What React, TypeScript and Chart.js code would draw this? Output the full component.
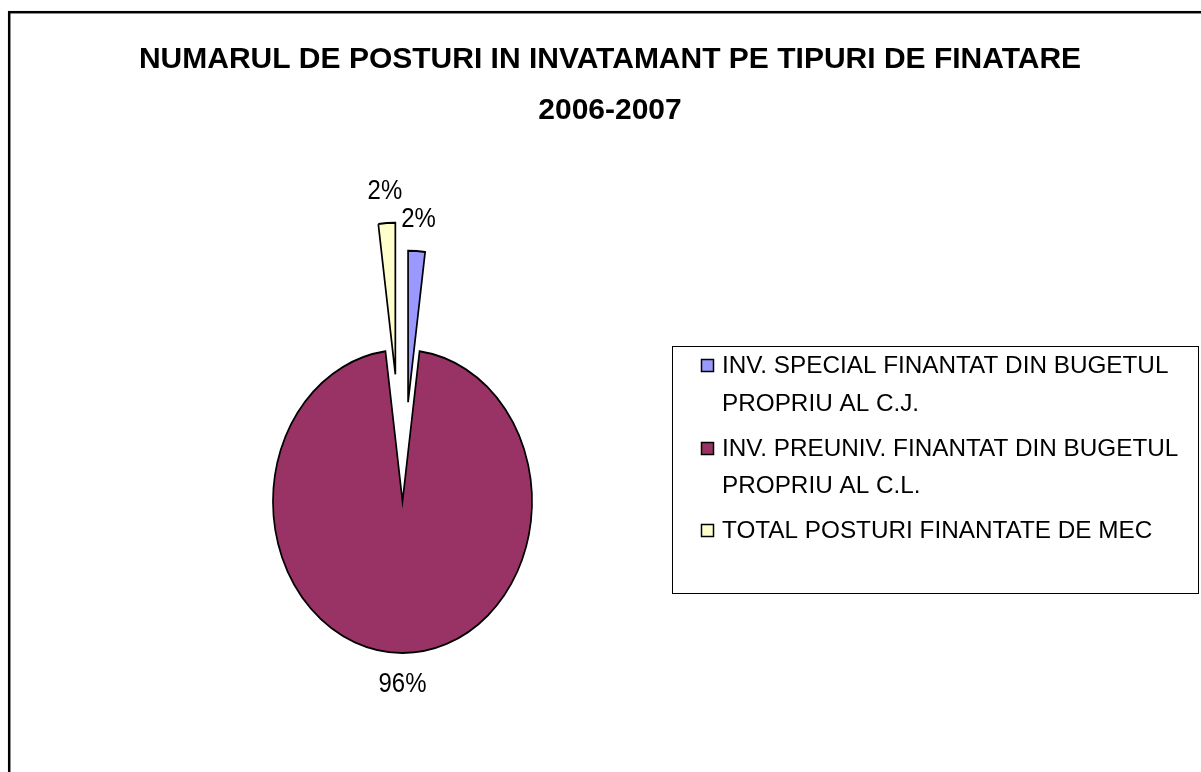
import React, { useEffect, useRef } from 'react';
import { Chart, registerables, ArcElement } from 'chart.js';

Chart.register(...registerables);

// ---- data ----
const TITLE_LINES = ['NUMARUL DE POSTURI IN INVATAMANT PE TIPURI DE FINATARE', '2006-2007'];
const CATEGORY_LINES = [
  ['INV. SPECIAL FINANTAT DIN BUGETUL', 'PROPRIU AL C.J.'],
  ['INV. PREUNIV. FINANTAT DIN BUGETUL', 'PROPRIU AL C.L.'],
  ['TOTAL POSTURI FINANTATE DE MEC'],
];
const CATEGORIES = CATEGORY_LINES.map((l) => l.join(' '));
const SHARES = [2.1, 95.8, 2.1];
const COLORS = ['#9999FF', '#993366', '#FFFFCC'];
const EXPLODE = [99, 0.5, 127];

// ---- styling / layout ----
const W = 1201;
const H = 772;
const KX = 0.855; // horizontal squash of the plot (elliptical pie)
const FONT = '"Liberation Sans", Arial, Helvetica, sans-serif';

class ExplodedArc extends ArcElement {
  static id = 'explodedArc';
  draw(ctx: CanvasRenderingContext2D) {
    const self = this as any;
    const idx = self.$context ? self.$context.dataIndex : 0;
    const e = EXPLODE[idx] || 0;
    const mid = (self.startAngle + self.endAngle) / 2;
    const x = self.x;
    const y = self.y;
    ctx.save();
    ctx.translate(x, y);
    ctx.scale(KX, 1);
    ctx.translate(-x, -y);
    ctx.translate(Math.cos(mid) * e, Math.sin(mid) * e);
    super.draw(ctx);
    ctx.restore();
  }
}
Chart.register(ExplodedArc as any);
(Chart.defaults.datasets as any).pie.dataElementType = 'explodedArc';

const framePlugin = {
  id: 'frameAndText',
  beforeDraw(chart: any) {
    const ctx = chart.ctx as CanvasRenderingContext2D;
    ctx.save();
    ctx.fillStyle = '#ffffff';
    ctx.fillRect(0, 0, W, H);
    // outer frame
    ctx.strokeStyle = '#000000';
    ctx.lineWidth = 2.5;
    ctx.strokeRect(9.2, 12.2, W + 50, H + 50);
    // title
    ctx.fillStyle = '#000000';
    ctx.textAlign = 'center';
    ctx.textBaseline = 'alphabetic';
    ctx.font = `bold 30px ${FONT}`;
    ctx.fillText(TITLE_LINES[0], 610, 68);
    ctx.fillText(TITLE_LINES[1], 610, 119);
    ctx.restore();
  },
  afterDraw(chart: any) {
    const ctx = chart.ctx as CanvasRenderingContext2D;
    ctx.save();
    // legend box
    ctx.strokeStyle = '#000000';
    ctx.lineWidth = 1;
    ctx.strokeRect(672.5, 346.5, 526, 247);
    const baselines = [
      [373, 411],
      [456, 493],
      [538],
    ];
    ctx.font = `24.3px ${FONT}`;
    ctx.textAlign = 'left';
    ctx.textBaseline = 'alphabetic';
    const colors = chart.data.datasets[0].backgroundColor as string[];
    CATEGORY_LINES.forEach((lines, i) => {
      const b = baselines[i];
      ctx.fillStyle = colors[i];
      ctx.fillRect(701, b[0] - 14, 13, 12);
      ctx.strokeStyle = '#000000';
      ctx.lineWidth = 1.5;
      ctx.strokeRect(701.5, b[0] - 13.5, 12, 12);
      ctx.fillStyle = '#000000';
      lines.forEach((t, j) => ctx.fillText(t, 722, b[j]));
    });
    ctx.restore();
  },
};

const labelPlugin = {
  id: 'sliceLabels',
  afterDatasetsDraw(chart: any) {
    const ctx = chart.ctx as CanvasRenderingContext2D;
    const meta = chart.getDatasetMeta(0);
    const values = chart.data.datasets[0].data as number[];
    const total = values.reduce((a, b) => a + b, 0);
    ctx.save();
    ctx.font = `28px ${FONT}`;
    ctx.fillStyle = '#000000';
    ctx.textAlign = 'center';
    ctx.textBaseline = 'alphabetic';
    meta.data.forEach((arc: any, i: number) => {
      const p = arc.getProps(['x', 'y', 'startAngle', 'endAngle', 'outerRadius'], true);
      const mid = (p.startAngle + p.endAngle) / 2;
      const gap = 31.5 - 2.5 * Math.sin(mid);
      const d = p.outerRadius + (EXPLODE[i] || 0) + gap;
      const px = p.x + Math.cos(mid) * d * KX;
      const py = p.y + Math.sin(mid) * d;
      ctx.save();
      ctx.translate(px, py + 10);
      ctx.scale(KX, 1);
      ctx.fillText(Math.round((values[i] / total) * 100) + '%', 0, 0);
      ctx.restore();
    });
    ctx.restore();
  },
};

export default function App() {
  const ref = useRef<HTMLCanvasElement | null>(null);
  useEffect(() => {
    if (!ref.current) return;
    const chart = new Chart(ref.current, {
      type: 'pie',
      data: {
        labels: CATEGORIES,
        datasets: [
          {
            data: SHARES,
            backgroundColor: COLORS,
            borderColor: '#000000',
            borderWidth: 2,
            borderJoinStyle: 'miter',
            radius: 151.5,
          } as any,
        ],
      },
      options: {
        responsive: false,
        animation: false,
        events: [],
        layout: { padding: { left: 0, right: 396, top: 230, bottom: 0 } },
        plugins: {
          legend: { display: false },
          title: { display: false },
          tooltip: { enabled: false },
        },
      } as any,
      plugins: [framePlugin, labelPlugin],
    });
    return () => chart.destroy();
  }, []);
  return (
    <canvas
      ref={ref}
      width={W}
      height={H}
      style={{ position: 'fixed', left: 0, top: 0, width: W, height: H, display: 'block' }}
    />
  );
}
